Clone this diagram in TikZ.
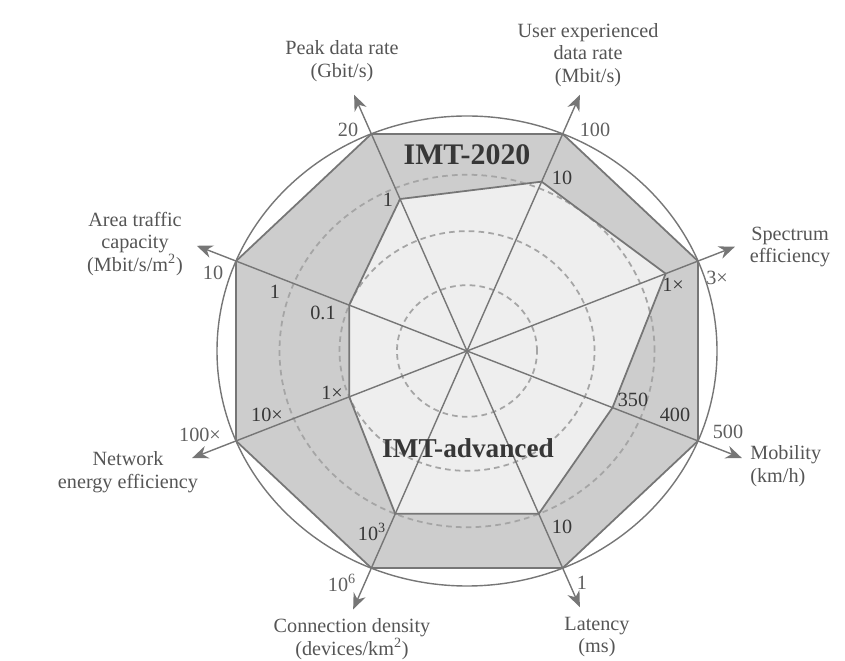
\documentclass[tikz,border=0pt]{standalone}
\usepackage{fontspec}
\setmainfont{Liberation Serif}
\usepackage{xcolor}
\usepackage{tikz}
\usetikzlibrary{arrows.meta}
\definecolor{linegray}{RGB}{118,118,118}
\definecolor{dashgray}{RGB}{165,165,165}
\definecolor{bandgray}{RGB}{205,205,205}
\definecolor{coregray}{RGB}{238,238,238}
\definecolor{namegray}{RGB}{85,85,85}
\definecolor{tickgray}{RGB}{95,95,95}
\definecolor{txtdark}{RGB}{55,55,55}

\begin{document}
\begin{tikzpicture}[
  every node/.style={font=\fontsize{11.5}{12.8}\selectfont},
  axisname/.style={align=center, text=namegray, inner sep=0pt},
  tick/.style={inner sep=0pt, text=tickgray},
  tickin/.style={inner sep=0pt, text=txtdark},
  title/.style={inner sep=0pt, text=txtdark, font=\bfseries\fontsize{17}{20}\selectfont},
  axisline/.style={-{Stealth[length=3.2mm,width=2.6mm]}, draw=linegray, line width=0.8pt},
  ring/.style={draw=dashgray, line width=1pt, dash pattern=on 3.2pt off 2.4pt},
  oct/.style={draw=linegray, line width=1pt, line join=round},
]
  \useasboundingbox (0,0) rectangle (16.9,13.2);

  \begin{scope}[shift={(9.34cm,6.18cm)}, x=5cm, y=4.7cm]
    \coordinate (O) at (0,0);
    % IMT-2020 corners
    \coordinate (peakO) at (112.5:1);
    \coordinate (userO) at (67.5:1);
    \coordinate (specO) at (22.5:1);
    \coordinate (mobO)  at (-22.5:1);
    \coordinate (latO)  at (-67.5:1);
    \coordinate (connO) at (-112.5:1);
    \coordinate (energO) at (-157.5:1);
    \coordinate (areaO) at (157.5:1);
    % IMT-advanced corners
    \coordinate (peakI) at (112.5:0.70);
    \coordinate (userI) at (67.5:0.78);
    \coordinate (specI) at (22.5:0.86);
    \coordinate (mobI)  at (-22.5:0.63);
    \coordinate (latI)  at (-67.5:0.75);
    \coordinate (connI) at (-112.5:0.75);
    \coordinate (energI) at (-157.5:0.51);
    \coordinate (areaI) at (157.5:0.51);
    % arrow ends
    \coordinate (peakT) at (112.5:1.18);
    \coordinate (userT) at (67.5:1.18);
    \coordinate (specT) at (22.5:1.16);
    \coordinate (mobT)  at (-22.5:1.19);
    \coordinate (latT)  at (-67.5:1.18);
    \coordinate (connT) at (-112.5:1.19);
    \coordinate (energT) at (-157.5:1.19);
    \coordinate (areaT) at (157.5:1.17);

    % Filled regions
    \fill[bandgray] (peakO) -- (userO) -- (specO) -- (mobO) -- (latO)
      -- (connO) -- (energO) -- (areaO) -- cycle;
    \fill[coregray] (peakI) -- (userI) -- (specI) -- (mobI) -- (latI)
      -- (connI) -- (energI) -- (areaI) -- cycle;

    % Dashed rings and outer circle
    \draw[ring] (O) circle (0.28);
    \draw[ring] (O) circle (0.51);
    \draw[ring] (O) circle (0.75);
    \draw[linegray, line width=0.8pt] (O) circle (1);

    % Eight axes
    \draw[axisline] (O) -- (peakT);
    \draw[axisline] (O) -- (userT);
    \draw[axisline] (O) -- (specT);
    \draw[axisline] (O) -- (mobT);
    \draw[axisline] (O) -- (latT);
    \draw[axisline] (O) -- (connT);
    \draw[axisline] (O) -- (energT);
    \draw[axisline] (O) -- (areaT);

    % Outlines
    \draw[oct] (peakO) -- (userO) -- (specO) -- (mobO) -- (latO)
      -- (connO) -- (energO) -- (areaO) -- cycle;
    \draw[oct] (peakI) -- (userI) -- (specI) -- (mobI) -- (latI)
      -- (connI) -- (energI) -- (areaI) -- cycle;
  \end{scope}

  % Titles
  \node[title] (t2020) at (9.34,10.10) {IMT-2020};
  \node[title, font=\bfseries\fontsize{15.5}{18}\selectfont] (tadv) at (9.36,4.24) {IMT-advanced};

  % Axis names
  \node[axisname] (nPeak) at (6.84,11.98) {Peak data rate\\(Gbit/s)};
  \node[axisname] (nUser) at (11.76,12.10) {User experienced\\data rate\\(Mbit/s)};
  \node[axisname] (nSpec) at (15.80,8.26) {Spectrum\\efficiency};
  \node[axisname, align=left, anchor=west] (nMob) at (15.00,3.88) {Mobility\\(km/h)};
  \node[axisname] (nLat) at (11.94,0.46) {Latency\\(ms)};
  \node[axisname] (nConn) at (7.04,0.42) {Connection density\\(devices/km\textsuperscript{2})};
  \node[axisname] (nEnerg) at (2.56,3.76) {Network\\energy efficiency};
  \node[axisname] (nArea) at (2.70,8.32) {Area traffic\\capacity\\(Mbit/s/m\textsuperscript{2})};

  % Scale values
  \node[tick]   (v20)   at (6.96,10.60) {20};
  \node[tickin] (v1p)   at (7.76,9.20)  {1};
  \node[tick]   (v100)  at (11.90,10.60) {100};
  \node[tickin] (v10u)  at (11.24,9.64) {10};
  \node[tick]   (v3x)   at (14.34,7.64) {3×};
  \node[tickin] (v1xs)  at (13.46,7.50) {1×};
  \node[tick]   (v500)  at (14.56,4.56) {500};
  \node[tickin] (v400)  at (13.50,4.90) {400};
  \node[tickin] (v350)  at (12.66,5.20) {350};
  \node[tick]   (v1l)   at (11.64,1.54) {1};
  \node[tickin] (v10l)  at (11.24,2.66) {10};
  \node[tick]   (v1e6)  at (6.84,1.54)  {10\textsuperscript{6}};
  \node[tickin] (v1e3)  at (7.44,2.56)  {10\textsuperscript{3}};
  \node[tick]   (v100x) at (4.00,4.50)  {100×};
  \node[tickin] (v10x)  at (5.34,4.90)  {10×};
  \node[tickin] (v1xe)  at (6.64,5.34)  {1×};
  \node[tick]   (v10a)  at (4.26,7.74)  {10};
  \node[tickin] (v1a)   at (5.50,7.36)  {1};
  \node[tickin] (v01a)  at (6.46,6.94)  {0.1};
\end{tikzpicture}
\end{document}
